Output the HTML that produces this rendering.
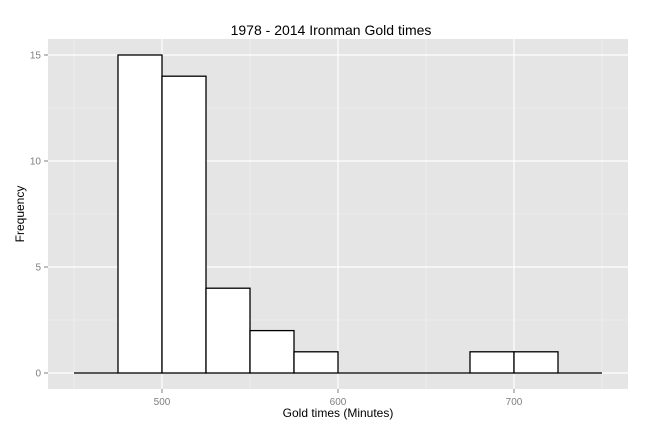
<!DOCTYPE html>
<html><head><meta charset="utf-8"><style>body{margin:0;background:#fff}svg{display:block;font-family:"Liberation Sans",sans-serif}</style></head>
<body>
<svg id="c" width="648" height="434">
<rect x="48" y="39" width="580" height="350" fill="#e5e5e5"/>
<g id="grid"></g><g id="bars"></g><g id="axes"></g>
<text x="331" y="35" font-size="14" text-anchor="middle" fill="#000">1978 - 2014 Ironman Gold times</text>
<text x="338" y="417" font-size="12" text-anchor="middle" fill="#000">Gold times (Minutes)</text>
<text transform="translate(24,214) rotate(-90)" font-size="12" text-anchor="middle" fill="#000">Frequency</text>
</svg>
<script>
const binStarts=[450,475,500,525,550,575,600,625,650,675,700,725];
const counts=[0,15,14,4,2,1,0,0,0,1,1,0];
const binWidth=25;
const xTicks=[500,600,700];
const xMinor=[450,550,650,750];
const yTicks=[0,5,10,15];
const yMinor=[2.5,7.5,12.5];
const NS="http://www.w3.org/2000/svg";
const X=v=>162+(v-500)*1.76;
const Y=v=>373-v*21.2;
function mk(t,a,p){const e=document.createElementNS(NS,t);for(const k in a)e.setAttribute(k,a[k]);p.appendChild(e);return e;}
const g=document.getElementById('grid'),b=document.getElementById('bars'),ax=document.getElementById('axes');
xMinor.forEach(v=>{const l=mk('line',{x1:X(v),x2:X(v),y1:39,y2:389,stroke:'#f2f2f2','stroke-width':0.6},g);

});
yMinor.forEach(v=>{const l=mk('line',{x1:48,x2:628,y1:Y(v),y2:Y(v),stroke:'#f2f2f2','stroke-width':0.6},g);

});
xTicks.forEach(v=>{const l=mk('line',{x1:X(v),x2:X(v),y1:39,y2:389,stroke:'#fff','stroke-width':1.2},g);


const t=mk('line',{x1:X(v),x2:X(v),y1:389,y2:393,stroke:'#7f7f7f'},ax);


const tx=mk('text',{x:X(v),y:405,'font-size':10,'text-anchor':'middle',fill:'#7f7f7f'},ax);tx.textContent=v;

});
yTicks.forEach(v=>{const l=mk('line',{x1:48,x2:628,y1:Y(v),y2:Y(v),stroke:'#fff','stroke-width':1.2},g);


const t=mk('line',{x1:44,x2:48,y1:Y(v),y2:Y(v),stroke:'#7f7f7f'},ax);


const tx=mk('text',{x:41,y:Y(v)+3.5,'font-size':10,'text-anchor':'end',fill:'#7f7f7f'},ax);tx.textContent=v;

});
binStarts.forEach((s,i)=>{const c=counts[i];
if(c>0){
const r=mk('rect',{x:X(s),y:Y(c),width:X(s+binWidth)-X(s),height:Y(0)-Y(c),fill:'#fff',stroke:'#000','stroke-width':1.3},b);


}else{
const l=mk('line',{x1:X(s),x2:X(s+binWidth),y1:Y(0),y2:Y(0),stroke:'#000','stroke-width':1.3},b);


}});
</script>
</body></html>
